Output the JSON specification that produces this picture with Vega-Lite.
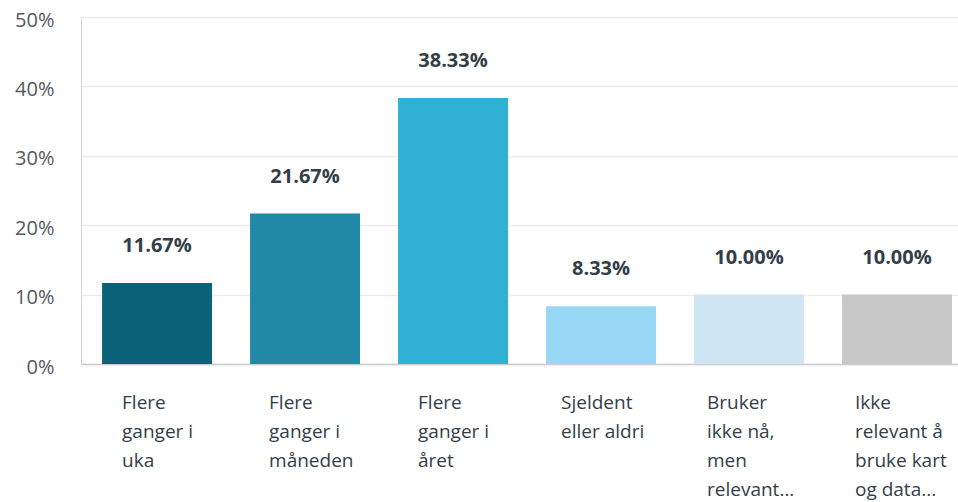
{
  "$schema": "https://vega.github.io/schema/vega-lite/v6.json",
  "width": 877,
  "height": 347,
  "autosize": {"type": "none"},
  "padding": {"left": 81, "top": 17, "right": 0, "bottom": 138},
  "background": "white",
  "config": {"view": {"stroke": null}, "font": "Open Sans"},
  "data": {
    "values": [
      {"svar": "Flere ganger i uka", "andel": 0.1167},
      {"svar": "Flere ganger i måneden", "andel": 0.2167},
      {"svar": "Flere ganger i året", "andel": 0.3833},
      {"svar": "Sjeldent eller aldri", "andel": 0.0833},
      {"svar": "Bruker ikke nå, men relevant...", "andel": 0.1},
      {"svar": "Ikke relevant å bruke kart og data...", "andel": 0.1}
    ]
  },
  "encoding": {
    "x": {
      "field": "svar",
      "type": "nominal",
      "sort": null,
      "scale": {"paddingInner": 0.257, "paddingOuter": 0.0915, "align": 0.778},
      "axis": {
        "title": null,
        "ticks": false,
        "domainColor": "#cccccc",
        "domainWidth": 1.5,
        "labelAngle": 0,
        "labelAlign": "left",
        "labelBaseline": "alphabetic",
        "labelPadding": 44,
        "labelFontSize": 19,
        "labelColor": "#333e48",
        "labelLineHeight": 29,
        "labelOverlap": false,
        "labelLimit": 300,
        "labelExpr": "{'Flere ganger i uka': ['Flere', 'ganger i', 'uka'], 'Flere ganger i måneden': ['Flere', 'ganger i', 'måneden'], 'Flere ganger i året': ['Flere', 'ganger i', 'året'], 'Sjeldent eller aldri': ['Sjeldent', 'eller aldri'], 'Bruker ikke nå, men relevant...': ['Bruker', 'ikke nå,', 'men', 'relevant...'], 'Ikke relevant å bruke kart og data...': ['Ikke', 'relevant å', 'bruke kart', 'og data...']}[datum.value]",
        "labelOffset": {
          "condition": [
            {"test": "datum.value == 'Flere ganger i uka'", "value": -35},
            {"test": "datum.value == 'Flere ganger i måneden'", "value": -36},
            {"test": "datum.value == 'Flere ganger i året'", "value": -35},
            {"test": "datum.value == 'Sjeldent eller aldri'", "value": -40}
          ],
          "value": -42
        }
      }
    },
    "y": {
      "field": "andel",
      "type": "quantitative",
      "scale": {"domain": [0, 0.5]},
      "axis": {
        "title": null,
        "values": [0, 0.1, 0.2, 0.3, 0.4, 0.5],
        "format": ".0%",
        "ticks": false,
        "domainColor": "#d6d6d6",
        "gridColor": "#ececec",
        "gridWidth": 1.5,
        "labelPadding": 27,
        "labelFontSize": 20,
        "labelColor": "#555a60",
        "labelBaseline": "middle",
        "labelOffset": 3
      }
    }
  },
  "layer": [
    {
      "mark": {"type": "bar"},
      "encoding": {
        "color": {
          "field": "svar",
          "type": "nominal",
          "sort": null,
          "legend": null,
          "scale": {
            "domain": ["Flere ganger i uka", "Flere ganger i måneden", "Flere ganger i året", "Sjeldent eller aldri", "Bruker ikke nå, men relevant...", "Ikke relevant å bruke kart og data..."],
            "range": ["#0b6379", "#2188a6", "#31b0d6", "#98d6f5", "#d0e6f5", "#c8c8c8"]
          }
        }
      }
    },
    {
      "mark": {"type": "text", "baseline": "alphabetic", "dy": -31, "fontSize": 20, "fontWeight": "bold", "color": "#333e48"},
      "encoding": {
        "text": {"field": "andel", "type": "quantitative", "format": ".2%"}
      }
    }
  ]
}
